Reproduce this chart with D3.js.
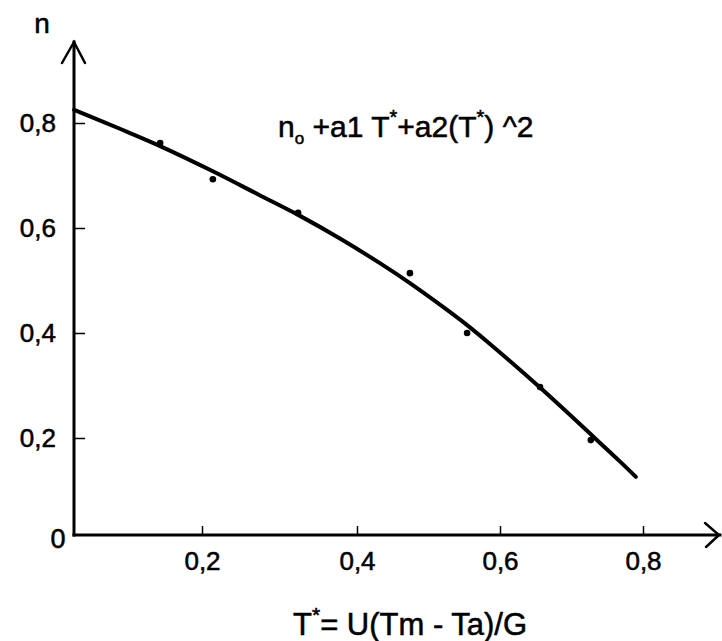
<!DOCTYPE html>
<html>
<head>
<meta charset="utf-8">
<script src="https://cdn.jsdelivr.net/npm/d3@7"></script>
<style>
  html, body { margin: 0; padding: 0; background: #fff; }
  svg { display: block; }
  text { font-family: "Liberation Sans", Arial, sans-serif; fill: #000; stroke: #000; stroke-width: 0.55px; }
</style>
</head>
<body>
<svg id="chart" width="722" height="641"></svg>
<script>
// ---- data ----
const xTicks = [0.2, 0.4, 0.6, 0.8];
const yTicks = [0.2, 0.4, 0.6, 0.8];
// measured points (T*, n)
const pointT = [0.146, 0.214, 0.324, 0.474, 0.554, 0.656, 0.727];
const pointN = [0.762, 0.693, 0.629, 0.514, 0.400, 0.297, 0.196];
// fitted curve
const curveT = [0.035, 0.094, 0.146, 0.214, 0.275, 0.324, 0.378, 0.432, 0.474, 0.526, 0.554, 0.586, 0.656, 0.727, 0.768, 0.790];
const curveN = [0.825, 0.789, 0.756, 0.708, 0.662, 0.625, 0.580, 0.533, 0.495, 0.444, 0.415, 0.379, 0.296, 0.207, 0.155, 0.126];

(function () {
const svg = d3.select("#chart");

// layout
const L = 74, B = 535, T = 42, R = 720;

// hand-drawn axis: tick spacing is not quite uniform, so map each tick
const x = d3.scaleLinear().domain(xTicks).range([202, 357, 500, 643]);
const y = d3.scaleLinear().domain([0, 0.8]).range([543, 123]);

const locale = d3.formatLocale({decimal: ",", thousands: " ", grouping: [3], currency: ["", ""]});
const fmt = locale.format(".1f");

// axes lines with open arrows
const ax = svg.append("g").attr("stroke", "#000").attr("fill", "none")
  .attr("stroke-width", 3).attr("stroke-linecap", "square").attr("stroke-linejoin", "miter");
ax.append("path").attr("d", `M${L},${B}V${T}`);
ax.append("path").attr("d", `M${L},${B}H${R}`);
ax.append("path").attr("stroke-width", 2.5).attr("stroke-linecap", "round")
  .attr("d", `M${L - 12},${T + 21}L${L},${T}L${L + 11},${T + 21}`);
ax.append("path").attr("stroke-width", 2.5).attr("stroke-linecap", "round")
  .attr("d", `M${R - 15},${B - 12}L${R - 1},${B}L${R - 14},${B + 12}`);

// y axis ticks
const gy = svg.append("g").attr("transform", `translate(${L},0)`)
  .call(d3.axisLeft(y).tickValues(yTicks).tickSize(-11).tickPadding(18).tickFormat(fmt));
gy.select(".domain").remove();
gy.selectAll(".tick line").attr("stroke", "#000").attr("stroke-width", 1.5);
gy.selectAll(".tick text").attr("font-size", 26).attr("font-family", "Liberation Sans, Arial, sans-serif").attr("fill", "#000");

// x axis ticks
const gx = svg.append("g").attr("transform", `translate(0,${B})`)
  .call(d3.axisBottom(x).tickValues(xTicks).tickSize(-9).tickPadding(17).tickFormat(fmt));
gx.select(".domain").remove();
gx.selectAll(".tick line").attr("stroke", "#000").attr("stroke-width", 1.5);
gx.selectAll(".tick text").attr("font-size", 26).attr("font-family", "Liberation Sans, Arial, sans-serif").attr("fill", "#000");

// origin label
svg.append("text").attr("x", 58).attr("y", 548).attr("text-anchor", "middle")
  .attr("font-size", 27).text("0");

// axis titles
svg.append("text").attr("x", 42).attr("y", 33).attr("text-anchor", "middle")
  .attr("font-size", 28).text("n");

const xt = svg.append("text").attr("x", 293).attr("y", 635).attr("font-size", 31);
xt.append("tspan").text("T");
xt.append("tspan").attr("font-size", 21).attr("dy", -13).text("*");
xt.append("tspan").attr("dy", 13).text("= U(Tm - Ta)/G");

// formula
const ft = svg.append("text").attr("x", 278).attr("y", 137).attr("font-size", 30);
ft.append("tspan").text("n");
ft.append("tspan").attr("font-size", 17).attr("dy", 7).text("o");
ft.append("tspan").attr("dy", -7).text(" +a1 T");
ft.append("tspan").attr("font-size", 20).attr("dy", -13).text("*");
ft.append("tspan").attr("dy", 13).text("+a2(T");
ft.append("tspan").attr("font-size", 20).attr("dy", -13).text("*");
ft.append("tspan").attr("dy", 13).text(") ^2");

// curve
const curveData = curveT.map((t, i) => [t, curveN[i]]);
svg.append("path").datum(curveData)
  .attr("fill", "none").attr("stroke", "#000").attr("stroke-width", 4)
  .attr("stroke-linecap", "round").attr("stroke-linejoin", "round")
  .attr("d", d3.line().x(d => x(d[0])).y(d => y(d[1])).curve(d3.curveCatmullRom.alpha(0.5)));

// points
svg.append("g").selectAll("circle").data(pointT.map((t, i) => [t, pointN[i]]))
  .join("circle")
  .attr("cx", d => x(d[0])).attr("cy", d => y(d[1])).attr("r", 3.3).attr("fill", "#000");
})();
</script>
</body>
</html>
